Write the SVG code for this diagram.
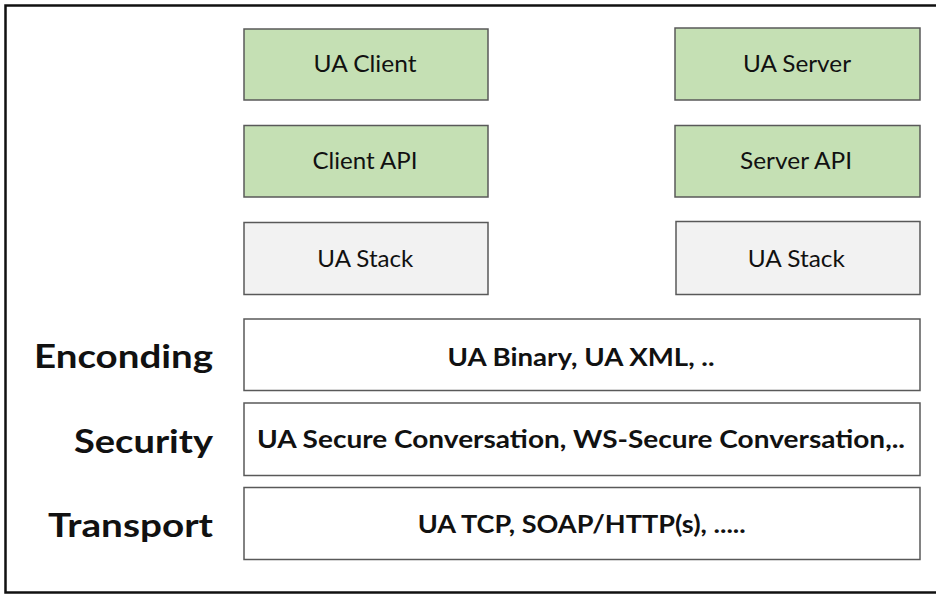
<svg xmlns="http://www.w3.org/2000/svg" width="936" height="594" viewBox="0 0 936 594">
<style>
.box{stroke:#595959;stroke-width:1.5}
.green{fill:#C5E0B4}
.grey{fill:#F2F2F2}
.white{fill:#FFFFFF}
.t{font-family:Lato,"Liberation Sans",sans-serif;font-size:24px;fill:#111;text-anchor:middle}
.b{font-family:Lato,"Liberation Sans",sans-serif;font-size:24px;font-weight:bold;fill:#111;text-anchor:middle}
.lbl{font-family:Lato,"Liberation Sans",sans-serif;font-size:31.5px;font-weight:bold;fill:#111;text-anchor:end}
</style>
<rect x="0" y="0" width="936" height="594" fill="#FFFFFF"/>
<rect x="5.5" y="5.5" width="945" height="587" fill="none" stroke="#111" stroke-width="2.5"/>
<g id="ua-client">
<rect class="box green" x="244" y="29" width="244" height="71"/>
<text class="t" x="365" y="72.3" textLength="103" lengthAdjust="spacingAndGlyphs">UA Client</text>
</g>
<g id="ua-server">
<rect class="box green" x="675" y="28" width="245" height="72"/>
<text class="t" x="797" y="72.3" textLength="108" lengthAdjust="spacingAndGlyphs">UA Server</text>
</g>
<g id="client-api">
<rect class="box green" x="244" y="125.5" width="244" height="71.5"/>
<text class="t" x="365" y="169.3" textLength="105" lengthAdjust="spacingAndGlyphs">Client API</text>
</g>
<g id="server-api">
<rect class="box green" x="675" y="125.5" width="245" height="71.5"/>
<text class="t" x="796" y="169.3" textLength="112" lengthAdjust="spacingAndGlyphs">Server API</text>
</g>
<g id="ua-stack-client">
<rect class="box grey" x="244" y="222.5" width="244" height="72"/>
<text class="t" x="365.3" y="266.7" textLength="96" lengthAdjust="spacingAndGlyphs">UA Stack</text>
</g>
<g id="ua-stack-server">
<rect class="box grey" x="676" y="221.5" width="244" height="73"/>
<text class="t" x="796.3" y="266.7" textLength="97" lengthAdjust="spacingAndGlyphs">UA Stack</text>
</g>
<g id="encoding">
<text class="lbl" x="213" y="368" textLength="179" lengthAdjust="spacingAndGlyphs">Enconding</text>
<rect class="box white" x="244" y="319" width="676" height="71.5"/>
<text class="b" x="581" y="365.7" textLength="267" lengthAdjust="spacingAndGlyphs">UA Binary, UA XML, ..</text>
</g>
<g id="security">
<text class="lbl" x="213" y="453" textLength="139" lengthAdjust="spacingAndGlyphs">Security</text>
<rect class="box white" x="244" y="403" width="676" height="72.5"/>
<text class="b" x="581" y="447.7" textLength="648" lengthAdjust="spacingAndGlyphs">UA Secure Conversation, WS-Secure Conversation,..</text>
</g>
<g id="transport">
<text class="lbl" x="213" y="537" textLength="165" lengthAdjust="spacingAndGlyphs">Transport</text>
<rect class="box white" x="244" y="487.5" width="676" height="72"/>
<text class="b" x="581.7" y="533.3" textLength="328" lengthAdjust="spacingAndGlyphs">UA TCP, SOAP/HTTP(s), .....</text>
</g>
<g id="connectors"></g>
</svg>
